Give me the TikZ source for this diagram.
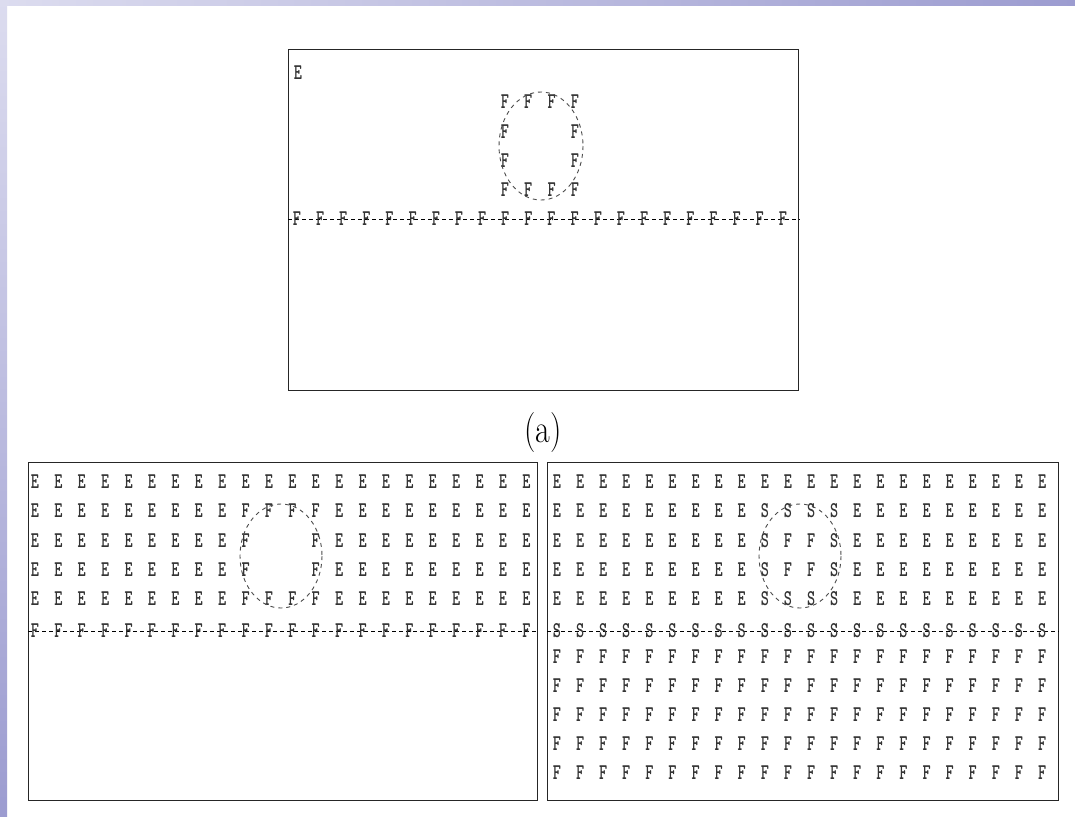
\documentclass[tikz,border=0pt]{standalone}
\usetikzlibrary{calc}
\definecolor{bgLight}{HTML}{DCDCEF}
\definecolor{bgDark}{HTML}{9C9CD0}
\newcommand{\cellchar}[1]{\scalebox{1}[1.45]{#1}}

\begin{document}
\begin{tikzpicture}[
  x=1pt, y=-1pt,
  cell/.style={font=\ttfamily\bfseries\fontsize{15.5}{15.5}\selectfont, text=black!80, inner sep=0pt},
  frame/.style={draw=black!85, line width=1.3pt, anchor=north west, inner sep=0pt},
  cutline/.style={draw=black, line width=0.9pt, dash pattern=on 4pt off 3pt},
  ring/.style={draw=black!70, line width=0.9pt, dash pattern=on 4pt off 4pt}
]
  \useasboundingbox (0,0) rectangle (1075,816);
  \fill[white] (0,0) rectangle (1075,816);

  % slide border
  \fill[left color=bgLight, right color=bgDark] (0,0) rectangle (1075,6);
  \fill[top color=bgLight, bottom color=bgDark] (0,0) rectangle (7,816);

  % (a) single box
  \node[frame, minimum width=510pt, minimum height=341pt] (boxA) at (288,49) {};
  \node[cell] (eA) at (298,73) {\cellchar{E}};
  \foreach \r in {0,...,3}
    \foreach \c in {0,...,3} {
      \def\ch{F}
      \ifnum\r>0 \ifnum\r<3 \ifnum\c>0 \ifnum\c<3 \def\ch{}\fi\fi\fi\fi
      \node[cell] (a-\r-\c) at (505+23.3*\c, 102+29.3*\r) {\cellchar{\ch}};
    }
  \draw[ring] (541,146) ellipse [x radius=42, y radius=54];
  \draw[cutline] (boxA.west |- 0,219) -- (boxA.east |- 0,219);
  \foreach \c in {0,...,21}
    \node[cell] (a-f-\c) at (297+23.14*\c, 219) {\cellchar{F}};

  \node[font=\fontsize{32}{32}\selectfont] (label) at (543,433) {\scalebox{1}[1.25]{(a)}};

  % left box
  \node[frame, minimum width=509pt, minimum height=338pt] (boxB) at (28,462) {};
  \foreach \r in {0,...,4}
    \foreach \c in {0,...,21} {
      \def\ch{E}
      \ifnum\r>0 \ifnum\c>8 \ifnum\c<13 \def\ch{F}
        \ifnum\r>1 \ifnum\r<4 \ifnum\c>9 \ifnum\c<12 \def\ch{}\fi\fi\fi\fi
      \fi\fi\fi
      \node[cell] (b-\r-\c) at (35+23.4*\c, 482+29.1*\r) {\cellchar{\ch}};
    }
  \draw[ring] (281,556) ellipse [x radius=41, y radius=52];
  \draw[cutline] (boxB.west |- 0,631) -- (boxB.east |- 0,631);
  \foreach \c in {0,...,21}
    \node[cell] (b-f-\c) at (35+23.4*\c, 631) {\cellchar{F}};

  % right box
  \node[frame, minimum width=511pt, minimum height=338pt] (boxC) at (547,462) {};
  \foreach \r in {0,...,4}
    \foreach \c in {0,...,21} {
      \def\ch{E}
      \ifnum\r>0 \ifnum\c>8 \ifnum\c<13 \def\ch{S}
        \ifnum\r>1 \ifnum\r<4 \ifnum\c>9 \ifnum\c<12 \def\ch{F}\fi\fi\fi\fi
      \fi\fi\fi
      \node[cell] (c-\r-\c) at (557+23.1*\c, 482+29.1*\r) {\cellchar{\ch}};
    }
  \draw[ring] (800,556) ellipse [x radius=41, y radius=52];
  \draw[cutline] (boxC.west |- 0,631) -- (boxC.east |- 0,631);
  \foreach \c in {0,...,21}
    \node[cell] (c-s-\c) at (557+23.1*\c, 631) {\cellchar{S}};
  \foreach \r in {6,...,10}
    \foreach \c in {0,...,21}
      \node[cell] (c-\r-\c) at (557+23.1*\c, 482+29.1*\r) {\cellchar{F}};
\end{tikzpicture}
\end{document}
